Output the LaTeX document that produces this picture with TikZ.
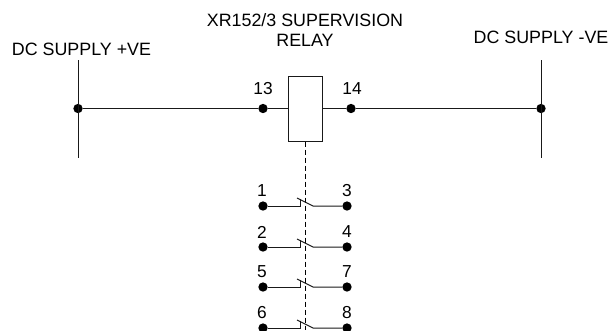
\documentclass[tikz,border=0pt]{standalone}
\usepackage{fontspec}
\setmainfont{Liberation Sans}
\usetikzlibrary{positioning}
\definecolor{wireColor}{rgb}{0.1,0.1,0.1}

\begin{document}
\begin{tikzpicture}[x=0.75pt,y=-0.75pt]

          \tikzstyle{dotNode} = [circle, fill=black, inner sep=0pt, minimum size=7pt];
          \tikzstyle{labelNode} = [inner sep=0pt, font=\fontsize{13pt}{15pt}\selectfont];
          \tikzstyle{textNode} = [inner sep=0pt, font=\fontsize{13.4pt}{15pt}\selectfont, align=center];
          \tikzstyle{relayNode} = [draw=wireColor, fill=white, line width=0.75pt, inner sep=0pt, minimum width=25.5pt, minimum height=48.75pt];

          \tikzstyle{wireEdge} = [wireColor, line width=0.75pt];
          \tikzstyle{linkEdge} = [black, line width=0.75pt, dash pattern=on 3.8pt off 2.2pt];

          \useasboundingbox (0,0) rectangle (610,330);

          % labels
          \node[textNode] (title) at (305,30) {XR152/3 SUPERVISION\\RELAY};
          \node[textNode] (plus) at (81.5,49) {DC SUPPLY +VE};
          \node[textNode] (minus) at (541,37) {DC SUPPLY -VE};

          % coil line
          \coordinate (plusTop) at (78,60);
          \coordinate (plusBot) at (78,158);
          \coordinate (minusTop) at (541,60);
          \coordinate (minusBot) at (541,158);
          \node[dotNode] (plusDot) at (78,108.5) {};
          \node[dotNode] (minusDot) at (541,108.5) {};
          \node[dotNode] (t13) at (263,108.5) {};
          \node[dotNode] (t14) at (351,108.5) {};
          \node[relayNode] (relay) at (305,108.5) {};
          \node[labelNode] (l13) at (263,89) {13};
          \node[labelNode] (l14) at (352,89) {14};
          \coordinate (linkEnd) at (305,330);

          \draw[wireEdge] (plusTop) -- (plusBot);
          \draw[wireEdge] (minusTop) -- (minusBot);
          \draw[wireEdge] (plusDot) -- (t13);
          \draw[wireEdge] (t13) -- (relay.west |- t13);
          \draw[wireEdge] (relay.east |- t14) -- (t14);
          \draw[wireEdge] (t14) -- (minusDot);
          \draw[linkEdge] (relay.south) -- (linkEnd);

          % contacts
          \node[dotNode] (t1) at (263,206) {};
          \node[dotNode] (t3) at (347,206) {};
          \node[labelNode] (l1) at (262,191) {1};
          \node[labelNode] (l3) at (347,191) {3};
          \coordinate (a1) at (300,206);
          \coordinate (b1) at (300,199);
          \coordinate (c1) at (297,198);
          \coordinate (d1) at (313,206);
          \draw[wireEdge] (t1) -- (a1) -- (b1);
          \draw[wireEdge] (c1) -- (d1) -- (t3);

          \node[dotNode] (t2) at (263,247) {};
          \node[dotNode] (t4) at (347,247) {};
          \node[labelNode] (l2) at (262,232) {2};
          \node[labelNode] (l4) at (347,232) {4};
          \coordinate (a2) at (300,247);
          \coordinate (b2) at (300,240);
          \coordinate (c2) at (297,239);
          \coordinate (d2) at (313,247);
          \draw[wireEdge] (t2) -- (a2) -- (b2);
          \draw[wireEdge] (c2) -- (d2) -- (t4);

          \node[dotNode] (t5) at (263,287) {};
          \node[dotNode] (t7) at (347,287) {};
          \node[labelNode] (l5) at (262,272) {5};
          \node[labelNode] (l7) at (347,272) {7};
          \coordinate (a5) at (300,287);
          \coordinate (b5) at (300,280);
          \coordinate (c5) at (297,279);
          \coordinate (d5) at (313,287);
          \draw[wireEdge] (t5) -- (a5) -- (b5);
          \draw[wireEdge] (c5) -- (d5) -- (t7);

          \node[dotNode] (t6) at (263,328) {};
          \node[dotNode] (t8) at (347,328) {};
          \node[labelNode] (l6) at (262,313) {6};
          \node[labelNode] (l8) at (347,313) {8};
          \coordinate (a6) at (300,328);
          \coordinate (b6) at (300,321);
          \coordinate (c6) at (297,320);
          \coordinate (d6) at (313,328);
          \draw[wireEdge] (t6) -- (a6) -- (b6);
          \draw[wireEdge] (c6) -- (d6) -- (t8);
        \end{tikzpicture}
\end{document}
